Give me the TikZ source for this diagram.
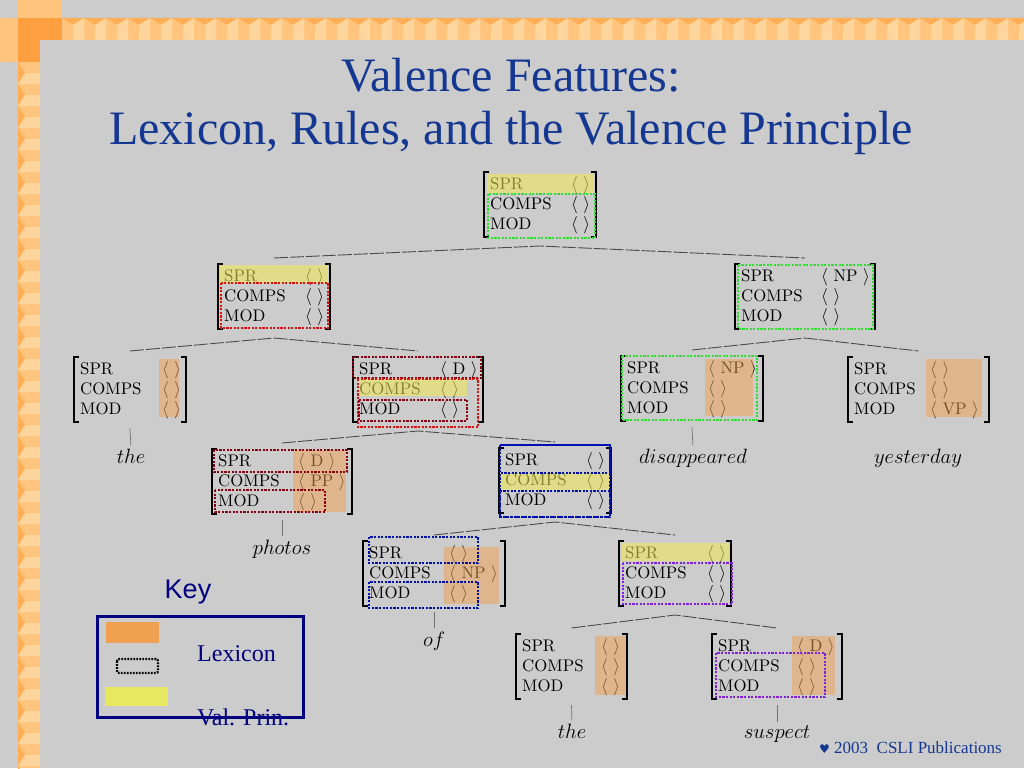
\documentclass[tikz,border=0pt]{standalone}
\usepackage{fontspec}
\newfontfamily\tms{Liberation Serif}
\newfontfamily\arl{Liberation Sans}
\newfontfamily\djv{DejaVu Sans}
\newfontfamily\avmrm{lmroman10-regular}[Extension=.otf]
\definecolor{bg}{HTML}{CCCCCC}
\definecolor{ttl}{RGB}{20,55,145}
\definecolor{navy}{HTML}{000080}
\definecolor{lexor}{HTML}{F0A050}
\definecolor{vpy}{HTML}{F2EA50}
\definecolor{dgreen}{HTML}{30E030}
\definecolor{dred}{HTML}{E01010}
\definecolor{ddred}{HTML}{8A0010}
\definecolor{dblue}{HTML}{0010B0}
\definecolor{dpurp}{HTML}{8020E0}
\definecolor{keyyellow}{HTML}{E8E860}
\definecolor{keyorange}{HTML}{EFA050}
\definecolor{bordbase}{HTML}{FFC57F}
\definecolor{borddark}{HTML}{FFAE55}
\definecolor{bordlight}{HTML}{FFD59E}
\definecolor{bordcorner}{HTML}{FFA040}
\newcommand\avmfont{\avmrm\fontsize{16.8}{20}\selectfont}
\newcommand\wordfont{\fontsize{19.5}{22}\selectfont}
\newcommand\avme{$\langle\ \rangle$}
\newcommand\avmv[1]{$\langle$\ #1\ $\rangle$}
\tikzset{
  brk/.style={line width=1.4pt, black},
  tline/.style={line width=0.9pt, black!70, dash pattern=on 14pt off 2pt},
  stem/.style={line width=0.7pt, black!55},
  lex/.style={fill=lexor, fill opacity=0.5},
  vp/.style={fill=vpy, fill opacity=0.55},
  dotbox/.style={line width=2.6pt, dash pattern=on 2.2pt off 1.4pt},
  attr/.style={anchor=base west, inner sep=0pt, font=\avmfont},
  word/.style={anchor=base, inner sep=0pt, font=\wordfont},
}
% #1 name, #2 left, #3 top, #4 right, #5 value x, #6-#8 values
\newcommand{\myavm}[8]{%
  \draw[brk] (#2+5,#3) -- (#2,#3) -- (#2,#3+65) -- (#2+5,#3+65);
  \draw[brk] (#4-5,#3) -- (#4,#3) -- (#4,#3+65) -- (#4-5,#3+65);
  \node[attr] (#1-spr) at (#2+6,#3+17) {SPR};
  \node[attr] (#1-comps) at (#2+6,#3+37) {COMPS};
  \node[attr] (#1-mod) at (#2+6,#3+57) {MOD};
  \node[attr] (#1-v1) at (#5,#3+17) {#6};
  \node[attr] (#1-v2) at (#5,#3+37) {#7};
  \node[attr] (#1-v3) at (#5,#3+57) {#8};
  \coordinate (#1-top) at ({(#2+#4)/2},#3-6);
  \coordinate (#1-bot) at ({(#2+#4)/2},#3+74);
  \coordinate (#1-stem) at ({(#2+#4)/2},#3+71);
}
\begin{document}
\begin{tikzpicture}[x=1pt,y=-1pt]
\useasboundingbox (0,0) rectangle (1024,768);
\fill[bg] (0,0) rectangle (1024,768);
% decorative border
\fill[bordbase] (0,18) rectangle (1024,40);
\fill[bordbase] (18,0) rectangle (40,768);
\fill[bordbase] (18,0) rectangle (62,18);
\fill[bordbase] (0,18) rectangle (18,62);
\foreach \x in {62,84,...,1024}{
  \fill[borddark] (\x,18) -- (\x+22,18) -- (\x+11,25) -- cycle;
  \fill[bordlight] (\x+11,25) -- (\x+22,18) -- (\x+22,40) -- (\x+11,40) -- cycle;
}
\foreach \y in {62,84,...,768}{
  \fill[borddark] (18,\y) -- (18,\y+22) -- (25,\y+11) -- cycle;
  \fill[bordlight] (25,\y+11) -- (18,\y+22) -- (40,\y+22) -- (40,\y+11) -- cycle;
}
\fill[bordcorner] (18,18) rectangle (62,40);
\fill[bordcorner] (18,40) rectangle (40,62);
% title
\node[font=\tms\fontsize{48}{56}\selectfont, text=ttl] (t1) at (511,75) {Valence Features:};
\node[font=\tms\fontsize{48}{56}\selectfont, text=ttl] (t2) at (511,133) {Lexicon, Rules, and the Valence Principle};
% AVMs
\myavm{s}{484}{172}{596}{571}{\avme}{\avme}{\avme}
\myavm{np}{218}{264}{330}{305}{\avme}{\avme}{\avme}
\myavm{vp}{735}{264}{875}{821}{\avmv{NP}}{\avme}{\avme}
\myavm{d1}{74}{357}{186}{162}{\avme}{\avme}{\avme}
\myavm{nom}{353}{357}{483}{440}{\avmv{D}}{\avme}{\avme}
\myavm{v}{621}{356}{763}{708}{\avmv{NP}}{\avme}{\avme}
\myavm{adv}{848}{357}{989}{930}{\avme}{\avme}{\avmv{VP}}
\myavm{n1}{212}{449}{352}{298}{\avmv{D}}{\avmv{PP}}{\avme}
\myavm{pp}{499}{448}{611}{586}{\avme}{\avme}{\avme}
\myavm{p}{363}{541}{505}{449}{\avme}{\avmv{NP}}{\avme}
\myavm{np2}{619}{541}{731}{707}{\avme}{\avme}{\avme}
\myavm{d2}{516}{634}{627}{601}{\avme}{\avme}{\avme}
\myavm{n2}{712}{634}{842}{797}{\avmv{D}}{\avme}{\avme}
% lexicon shading
\fill[lex] (159,359) rectangle (179,417);
\fill[lex] (705,359) rectangle (753,416);
\fill[lex] (926,359) rectangle (982,417);
\fill[lex] (293,450) rectangle (346,512);
\fill[lex] (444,547) rectangle (499,604);
\fill[lex] (595,636) rectangle (626,695);
\fill[lex] (792,636) rectangle (835,695);
% valence principle shading
\fill[vp] (487,174) rectangle (594,193);
\fill[vp] (220,265) rectangle (328,283);
\fill[vp] (359,379) rectangle (467,396);
\fill[vp] (500,473) rectangle (610,490);
\fill[vp] (622,543) rectangle (729,561);
% dotted boxes
\draw[dotbox, dgreen] (488,194) rectangle (595,238);
\draw[dotbox, dred] (221,283) rectangle (328,328);
\draw[dotbox, dgreen] (738,265) rectangle (873,329);
\draw[dotbox, ddred] (353,357) rectangle (481,378);
\draw[dotbox, dred] (358,379) rectangle (478,427);
\draw[dotbox, ddred] (359,400) rectangle (467,421);
\draw[dotbox, dgreen] (622,356) rectangle (757,420);
\draw[dotbox, ddred] (214,450) rectangle (347,472);
\draw[dotbox, ddred] (215,490) rectangle (325,512);
\draw[dotbox, dblue] (500,445) rectangle (610,473);
\draw[dotbox, dblue] (500,491) rectangle (610,517);
\draw[dotbox, dblue] (500,445) rectangle (610,517);
\draw[dotbox, dblue] (369,537) rectangle (478,563);
\draw[dotbox, dblue] (369,582) rectangle (478,608);
\draw[dotbox, dpurp] (623,563) rectangle (732,604);
\draw[dotbox, dpurp] (716,653) rectangle (825,697);
% tree lines
\draw[tline] (np-top) -- (s-bot) -- (vp-top);
\draw[tline] (d1-top) -- (np-bot) -- (nom-top);
\draw[tline] (v-top) -- (vp-bot) -- (adv-top);
\draw[tline] (n1-top) -- (nom-bot) -- (pp-top);
\draw[tline] (p-top) -- (pp-bot) -- (np2-top);
\draw[tline] (d2-top) -- (np2-bot) -- (n2-top);
% words
\node[word] (w1) at (131,463) {$the$};
\node[word] (w2) at (693,463) {$disappeared$};
\node[word] (w3) at (918,463) {$yesterday$};
\node[word] (w4) at (282,554) {$photos$};
\node[word] (w5) at (434,646) {$of$};
\node[word] (w6) at (572,738) {$the$};
\node[word] (w7) at (777,738) {$suspect$};
\draw[stem, shorten >=3pt] (d1-stem) -- (w1.north);
\draw[stem, shorten >=3pt] (v-stem) -- (w2.north);
\draw[stem, shorten >=3pt] (n1-stem) -- (w4.north);
\draw[stem, shorten >=3pt] (p-stem) -- (w5.north);
\draw[stem, shorten >=3pt] (d2-stem) -- (w6.north);
\draw[stem, shorten >=3pt] (n2-stem) -- (w7.north);
% key
\node[font=\arl\fontsize{27}{30}\selectfont, text=navy] (key) at (188,592) {Key};
\draw[navy, line width=3pt] (97,616) rectangle (303,717);
\fill[keyorange] (106,622) rectangle (159,643);
\draw[black, line width=2.2pt, dash pattern=on 1.8pt off 1.2pt, rounded corners=2pt] (117,659) rectangle (158,673);
\fill[keyyellow] (105,687) rectangle (168,706);
\node[font=\tms\fontsize{24}{28}\selectfont, text=navy, anchor=west, inner sep=0pt] (lx) at (197,654) {Lexicon};
\node[font=\tms\fontsize{24}{28}\selectfont, text=navy, anchor=west, inner sep=0pt] (vpk) at (197,717) {Val. Prin.};
% copyright
\node[anchor=west, inner sep=0pt, font=\tms\fontsize{17}{20}\selectfont, text=ttl] (cp) at (819,748) {{\djv\fontsize{12}{14}\selectfont ♥}\ 2003\ \ CSLI Publications};
\end{tikzpicture}
\end{document}
